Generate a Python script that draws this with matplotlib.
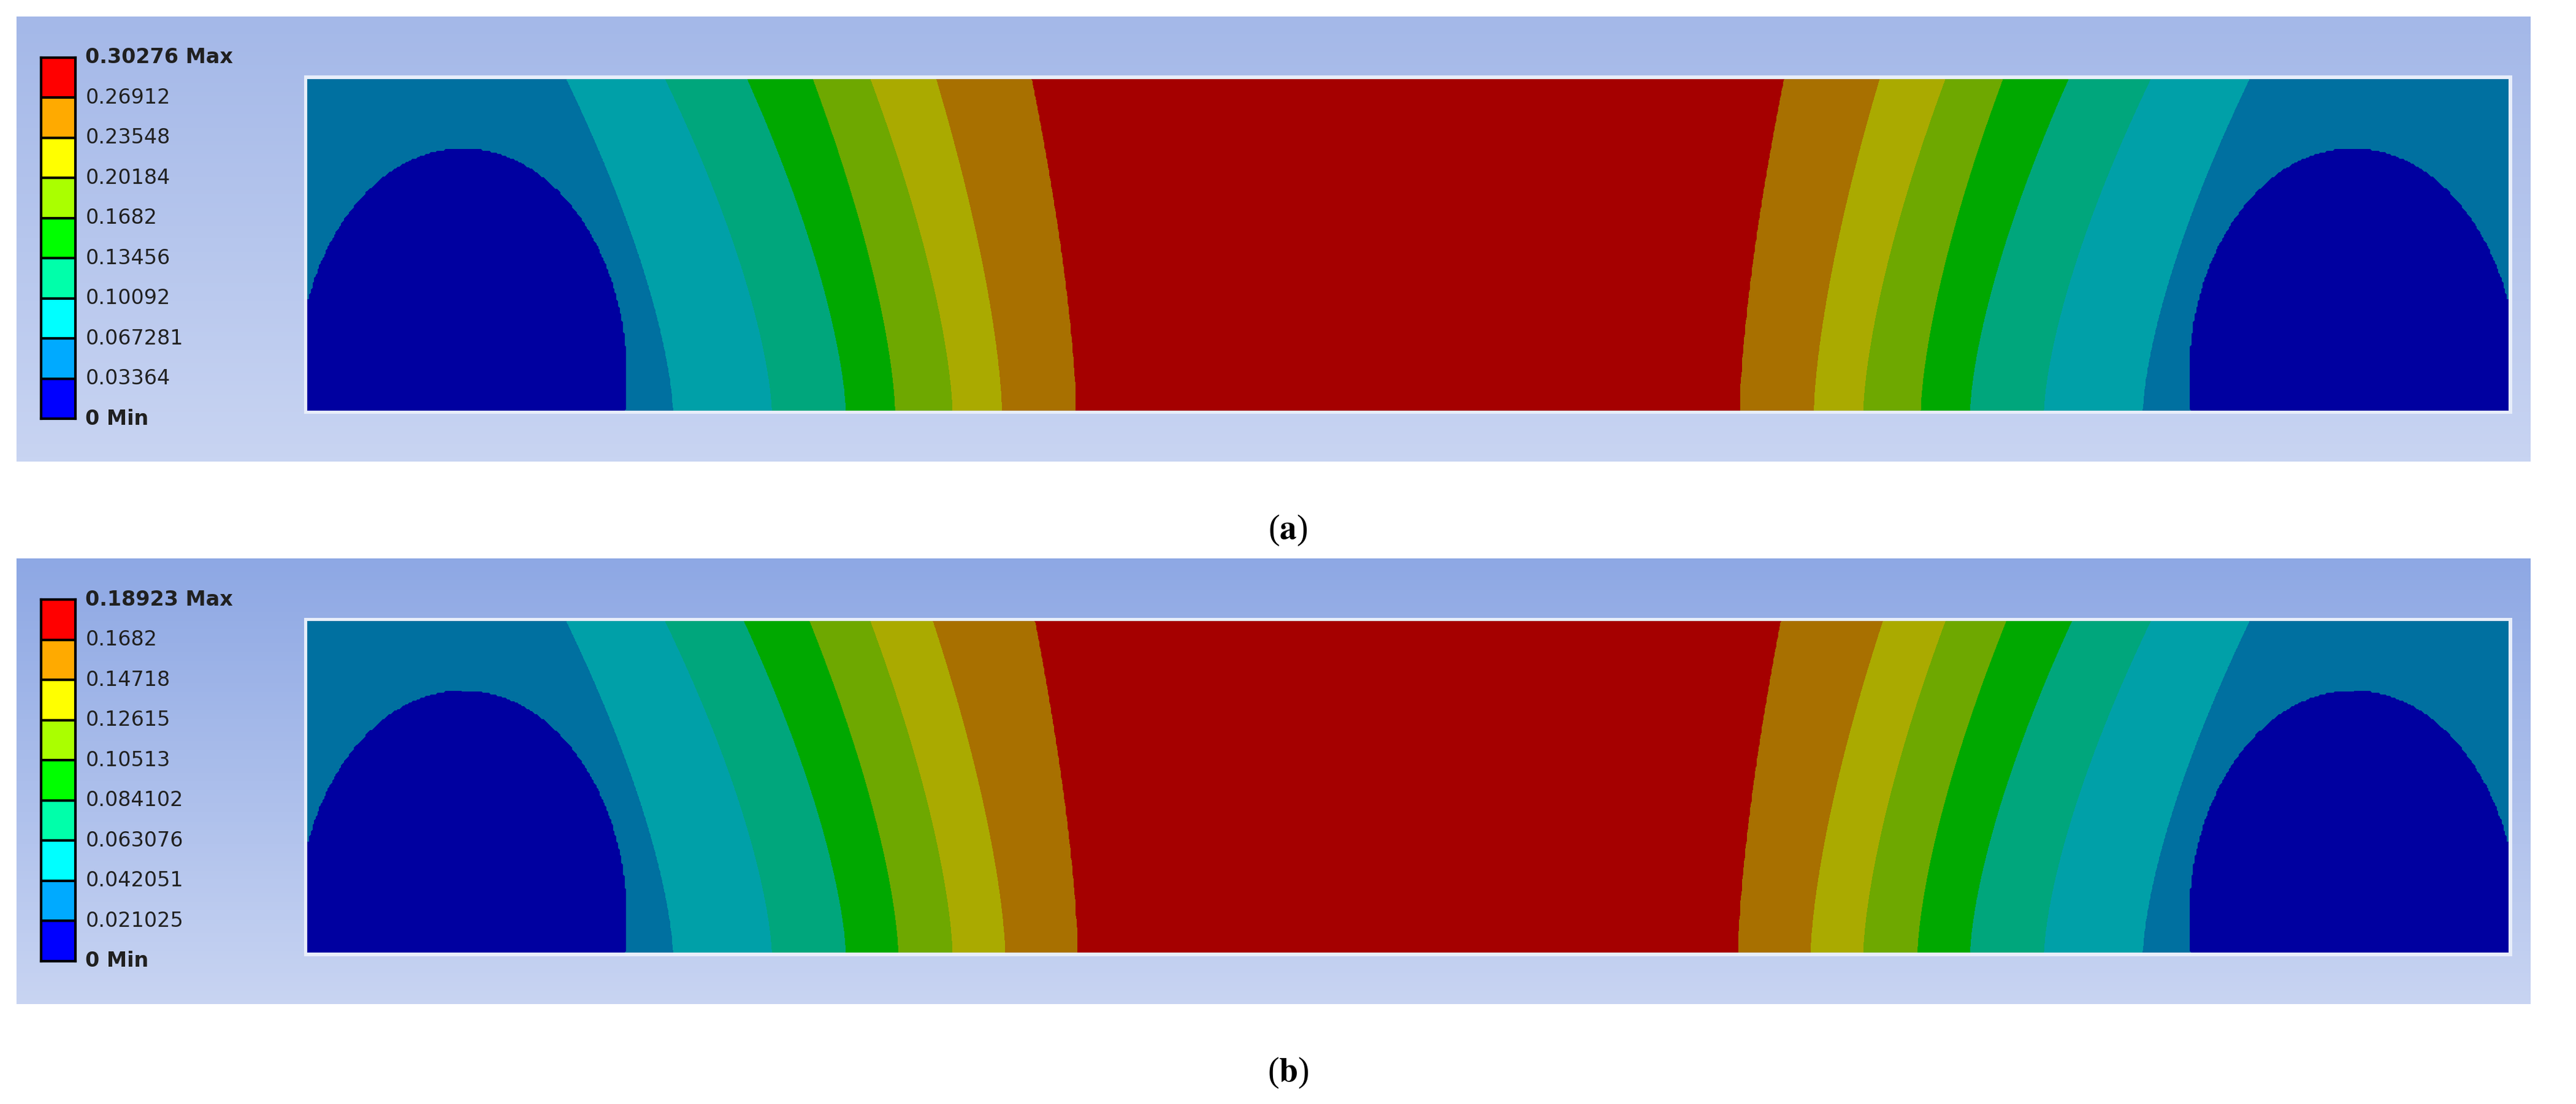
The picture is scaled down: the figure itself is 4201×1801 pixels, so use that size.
import numpy as np
import matplotlib.pyplot as plt
from matplotlib.colors import ListedColormap, LinearSegmentedColormap

plt.rcParams['mathtext.fontset'] = 'stix'

# legend labels (top to bottom)
labels_a = ["0.30276 Max", "0.26912", "0.23548", "0.20184", "0.1682", "0.13456",
            "0.10092", "0.067281", "0.03364", "0 Min"]
labels_b = ["0.18923 Max", "0.1682", "0.14718", "0.12615", "0.10513", "0.084102",
            "0.063076", "0.042051", "0.021025", "0 Min"]

# band boundaries, px from the left edge of the model (width 1340, height 202)
top_a = [158, 218, 268, 308, 343, 383, 441]
bot_a = [223, 283, 328, 358, 393, 423, 468]
top_b = [158, 218, 266, 306, 343, 381, 443]
bot_b = [223, 283, 328, 360, 393, 425, 469]
# blue blob: centre x, centre y (from bottom), semi axes
blob = [95, 20, 100, 140]

legend_cols = ['#0000ff', '#00aaff', '#00ffff', '#00ffaa', '#00ff00',
               '#aaff00', '#ffff00', '#ffaa00', '#ff0000']
plot_cols = ['#0000a0', '#0070a0', '#00a0a8', '#00a67c', '#00a800',
             '#6ea800', '#aaaa00', '#a87000', '#a50000']

W, H = 1340, 202
RW, RH = 1568, 672

fig = plt.figure(figsize=(42.01, 18.01), dpi=100)
fig.patch.set_facecolor('white')


def box(x0, y0, x1, y1):
    return [x0 / RW, 1 - y1 / RH, (x1 - x0) / RW, (y1 - y0) / RH]


def field(top, bot):
    x = np.linspace(0, W, 1341)
    y = np.linspace(0, H, 203)
    X, Y = np.meshgrid(x, y)
    d = np.minimum(X, W - X)
    t = Y / H
    F = np.zeros_like(X)
    for j in range(len(y)):
        w = t[j, 0] ** 1.5
        b = np.array(bot) * (1 - w) + np.array(top) * w
        F[j] = np.interp(d[j], np.r_[0, b, W / 2], np.arange(1, 10))
    cx, cy, a, bb = blob
    inside = ((d - cx) / a) ** 2 + ((Y - cy) / bb) ** 2 < 1
    F[inside] = 0.5
    return X, Y, F


def panel(y0, y1, labels, top, bot, cap, c_top):
    bg = fig.add_axes(box(10, y0, 1540, y1))
    grad = LinearSegmentedColormap.from_list('g', [c_top, '#c8d4f2'])
    bg.imshow(np.linspace(0, 1, 100)[:, None], aspect='auto', cmap=grad,
              extent=[0, 1, 0, 1])
    bg.axis('off')

    edge = fig.add_axes(box(185, y0 + 36, 1529, y0 + 242))
    edge.set_facecolor('#e8eefa')
    edge.set_xticks([])
    edge.set_yticks([])
    for s in edge.spines.values():
        s.set_visible(False)

    ax = fig.add_axes(box(187, y0 + 38, 1527, y0 + 240))
    X, Y, F = field(top, bot)
    ax.contourf(X, Y, F, levels=np.arange(0, 10), cmap=ListedColormap(plot_cols))
    ax.set_xlim(0, W)
    ax.set_ylim(0, H)
    ax.axis('off')

    cb = fig.add_axes(box(25, y0 + 25, 46, y0 + 245))
    cb.imshow(np.arange(9)[::-1][:, None], aspect='auto',
              cmap=ListedColormap(legend_cols), extent=[0, 1, 0, 9])
    for k in range(1, 9):
        cb.axhline(k, color='black', lw=3)
    cb.set_xticks([])
    cb.set_yticks([])
    for s in cb.spines.values():
        s.set_linewidth(3)
    for i, lab in enumerate(labels):
        yy = y0 + 25 + i * 220 / 9
        bold = i in (0, 9)
        fig.text(52 / RW, 1 - yy / RH, lab, fontsize=24, va='center',
                 fontweight='bold' if bold else 'normal', color='#202020')
    fig.text(0.5, 1 - (y1 + 42) / RH, r'(' + r'$\mathbf{' + cap + '}$' + ')',
             fontsize=40, ha='center', va='center', family='Liberation Serif')


panel(10, 281, labels_a, top_a, bot_a, 'a', '#a4b8e8')
panel(340, 611, labels_b, top_b, bot_b, 'b', '#8ea8e4')

fig.savefig('out.png', dpi=100)
